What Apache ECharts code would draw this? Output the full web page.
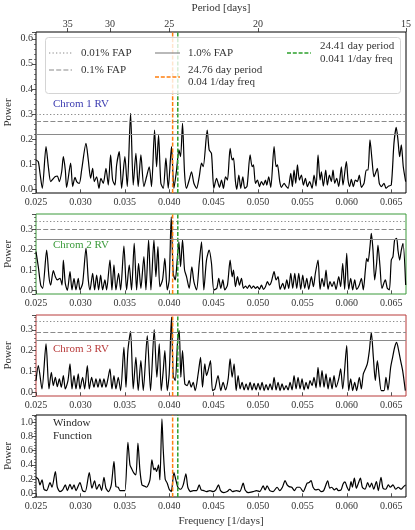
<!DOCTYPE html>
<html>
<head>
<meta charset="utf-8">
<script src="https://cdn.jsdelivr.net/npm/echarts@6/dist/echarts.min.js"></script>
<style>
  html, body { margin: 0; padding: 0; background: #fff; }
  #main { width: 415px; height: 530px; }
</style>
</head>
<body>
<div id="main"></div>
<script>
// frequency range: 1/40 .. 1/15 per day
const xMin = 1 / 40, xMax = 1 / 15;
const freqTicks = [0.025, 0.030, 0.035, 0.040, 0.045, 0.050, 0.055, 0.060, 0.065];
const periodTicks = [35, 30, 25, 20, 15];
const orangePeriod = 24.76, greenPeriod = 24.41;

// FAP levels per panel: [0.01%, 0.1%, 1.0%]
const fap1 = [0.302, 0.272, 0.224];
const fap2 = [0.335, 0.299, 0.250];
const fap3 = [0.335, 0.292, 0.247];

// Chrom 1 RV
const freq1 = [0.02500,0.02526,0.02545,0.02571,0.02613,0.02639,0.02665,0.02688,0.02714,0.02740,0.02763,0.02789,0.02808,0.02830,0.02845,0.02890,0.02913,0.02939,0.02958,0.02988,
  0.03014,0.03063,0.03089,0.03115,0.03138,0.03156,0.03183,0.03209,0.03231,0.03258,0.03288,0.03314,0.03340,0.03363,0.03389,0.03408,0.03438,0.03464,0.03501,0.03528,
  0.03565,0.03595,0.03625,0.03651,0.03681,0.03715,0.03745,0.03775,0.03801,0.03835,0.03858,0.03880,0.03906,0.03933,0.03963,0.03989,0.04026,0.04053,0.04083,0.04109,
  0.04128,0.04150,0.04173,0.04195,0.04225,0.04251,0.04278,0.04308,0.04338,0.04364,0.04383,0.04428,0.04450,0.04476,0.04503,0.04533,0.04566,0.04589,0.04611,0.04634,
  0.04656,0.04686,0.04709,0.04724,0.04746,0.04761,0.04784,0.04806,0.04829,0.04851,0.04877,0.04911,0.04934,0.04949,0.04971,0.04994,0.05016,0.05039,0.05061,0.05084,
  0.05099,0.05121,0.05144,0.05181,0.05204,0.05219,0.05245,0.05264,0.05294,0.05316,0.05339,0.05369,0.05387,0.05406,0.05425,0.05444,0.05466,0.05489,0.05511,0.05534,
  0.05556,0.05582,0.05609,0.05631,0.05654,0.05676,0.05699,0.05714,0.05736,0.05763,0.05781,0.05804,0.05826,0.05845,0.05864,0.05886,0.05909,0.05939,0.05957,0.05995,
  0.06014,0.06032,0.06051,0.06074,0.06096,0.06119,0.06141,0.06164,0.06194,0.06220,0.06239,0.06261,0.06284,0.06306,0.06329,0.06344,0.06366,0.06389,0.06419,0.06441,
  0.06471,0.06501,0.06531,0.06557,0.06576,0.06595,0.06614,0.06636,0.06663];
const pow1 = [0.117,0.110,0.064,0.004,0.170,0.090,0.031,0.040,0.050,0.053,0.031,0.070,0.130,0.077,0.008,0.104,0.011,0.048,0.031,0.024,
  0.077,0.183,0.117,0.044,0.084,0.031,0.050,0.004,0.044,0.024,0.084,0.017,0.137,0.037,0.017,0.097,0.150,0.004,0.130,0.011,
  0.303,0.017,0.143,0.011,0.137,0.011,0.050,0.090,0.011,0.236,0.090,0.216,0.024,0.004,0.124,0.004,0.170,0.004,0.077,0.157,
  0.130,0.263,0.064,0.004,0.037,0.070,0.024,0.004,0.050,0.104,0.090,0.236,0.157,0.143,0.004,0.044,0.008,0.037,0.004,0.050,
  0.037,0.163,0.117,0.124,0.031,0.000,0.057,0.004,0.050,0.004,0.013,0.137,0.090,0.097,0.024,0.037,0.011,0.031,0.017,0.037,
  0.017,0.050,0.008,0.170,0.090,0.097,0.031,0.008,0.024,0.013,0.004,0.064,0.011,0.077,0.024,0.097,0.037,0.057,0.017,0.044,
  0.011,0.031,0.004,0.057,0.013,0.137,0.037,0.070,0.013,0.077,0.017,0.057,0.031,0.077,0.024,0.044,0.011,0.090,0.017,0.110,
  0.037,0.011,0.040,0.011,0.037,0.031,0.057,0.008,0.024,0.077,0.077,0.197,0.117,0.050,0.070,0.084,0.024,0.011,0.024,0.004,
  0.013,0.017,0.183,0.247,0.197,0.130,0.177,0.090,0.031];

// Chrom 2 RV
const freq2 = [0.02500,0.02526,0.02553,0.02575,0.02620,0.02646,0.02665,0.02695,0.02718,0.02740,0.02770,0.02793,0.02808,0.02830,0.02853,0.02883,0.02905,0.02928,0.02950,0.02976,
  0.02995,0.03025,0.03063,0.03089,0.03108,0.03138,0.03160,0.03183,0.03205,0.03228,0.03250,0.03276,0.03295,0.03333,0.03355,0.03378,0.03400,0.03430,0.03453,0.03490,
  0.03520,0.03550,0.03576,0.03606,0.03633,0.03655,0.03681,0.03715,0.03738,0.03768,0.03794,0.03828,0.03850,0.03873,0.03895,0.03925,0.03951,0.03978,0.04000,0.04023,
  0.04045,0.04068,0.04090,0.04109,0.04128,0.04150,0.04173,0.04195,0.04225,0.04255,0.04278,0.04308,0.04338,0.04364,0.04390,0.04420,0.04450,0.04476,0.04503,0.04536,
  0.04558,0.04581,0.04604,0.04626,0.04656,0.04686,0.04709,0.04724,0.04746,0.04769,0.04791,0.04814,0.04836,0.04859,0.04881,0.04904,0.04926,0.04949,0.04971,0.04994,
  0.05016,0.05039,0.05061,0.05084,0.05106,0.05129,0.05151,0.05181,0.05204,0.05226,0.05249,0.05279,0.05301,0.05324,0.05346,0.05369,0.05391,0.05414,0.05436,0.05459,
  0.05481,0.05504,0.05526,0.05549,0.05571,0.05601,0.05624,0.05646,0.05676,0.05699,0.05721,0.05744,0.05766,0.05789,0.05811,0.05834,0.05856,0.05879,0.05909,0.05931,
  0.05954,0.05976,0.05999,0.06021,0.06044,0.06066,0.06089,0.06111,0.06141,0.06164,0.06186,0.06209,0.06224,0.06239,0.06261,0.06276,0.06295,0.06314,0.06336,0.06351,
  0.06374,0.06396,0.06434,0.06456,0.06479,0.06501,0.06520,0.06539,0.06561,0.06576,0.06595,0.06614,0.06633,0.06663];
const pow2 = [0.190,0.116,0.026,0.010,0.198,0.067,0.026,0.097,0.067,0.051,0.059,0.026,0.149,0.034,0.000,0.092,0.002,0.059,0.002,0.059,
  0.002,0.034,0.207,0.051,0.002,0.084,0.002,0.075,0.002,0.075,0.002,0.051,0.002,0.149,0.002,0.125,0.002,0.084,0.002,0.218,
  0.002,0.125,0.002,0.231,0.002,0.133,0.010,0.166,0.002,0.248,0.002,0.248,0.067,0.215,0.018,0.051,0.157,0.002,0.051,0.362,
  0.084,0.051,0.149,0.239,0.116,0.248,0.100,0.067,0.010,0.116,0.043,0.002,0.133,0.239,0.002,0.149,0.198,0.133,0.002,0.010,
  0.059,0.010,0.051,0.002,0.026,0.149,0.067,0.100,0.018,0.067,0.026,0.059,0.010,0.021,0.010,0.026,0.010,0.021,0.010,0.018,
  0.005,0.026,0.005,0.018,0.043,0.026,0.043,0.092,0.051,0.067,0.005,0.034,0.005,0.051,0.010,0.084,0.010,0.084,0.010,0.084,
  0.005,0.075,0.010,0.059,0.005,0.067,0.018,0.084,0.149,0.005,0.059,0.018,0.100,0.005,0.043,0.018,0.043,0.005,0.067,0.018,
  0.133,0.005,0.182,0.005,0.059,0.002,0.051,0.005,0.026,0.059,0.002,0.100,0.157,0.141,0.215,0.280,0.198,0.051,0.133,0.223,
  0.116,0.010,0.051,0.010,0.002,0.149,0.166,0.248,0.256,0.198,0.149,0.198,0.231,0.026];

// Chrom 3 RV
const freq3 = [0.02500,0.02526,0.02567,0.02613,0.02646,0.02673,0.02695,0.02718,0.02740,0.02763,0.02785,0.02808,0.02830,0.02860,0.02883,0.02905,0.02928,0.02950,0.02976,0.02995,
  0.03025,0.03048,0.03078,0.03100,0.03126,0.03153,0.03175,0.03198,0.03220,0.03243,0.03265,0.03288,0.03310,0.03333,0.03355,0.03378,0.03400,0.03426,0.03453,0.03490,
  0.03513,0.03535,0.03565,0.03595,0.03625,0.03651,0.03681,0.03708,0.03753,0.03790,0.03831,0.03861,0.03888,0.03910,0.03933,0.03951,0.03978,0.04000,0.04026,0.04045,
  0.04068,0.04094,0.04113,0.04131,0.04150,0.04176,0.04203,0.04225,0.04248,0.04270,0.04293,0.04326,0.04353,0.04375,0.04401,0.04420,0.04443,0.04465,0.04488,0.04514,
  0.04550,0.04581,0.04607,0.04634,0.04664,0.04686,0.04709,0.04731,0.04754,0.04776,0.04799,0.04821,0.04844,0.04866,0.04889,0.04911,0.04934,0.04956,0.04979,0.05001,
  0.05024,0.05046,0.05069,0.05091,0.05114,0.05136,0.05159,0.05181,0.05204,0.05226,0.05249,0.05271,0.05294,0.05316,0.05339,0.05361,0.05384,0.05406,0.05429,0.05451,
  0.05474,0.05496,0.05519,0.05541,0.05564,0.05586,0.05609,0.05631,0.05654,0.05676,0.05699,0.05721,0.05744,0.05766,0.05789,0.05811,0.05834,0.05856,0.05879,0.05909,
  0.05931,0.05954,0.05999,0.06021,0.06044,0.06066,0.06089,0.06111,0.06141,0.06164,0.06186,0.06209,0.06231,0.06254,0.06276,0.06299,0.06321,0.06344,0.06366,0.06389,
  0.06419,0.06441,0.06464,0.06494,0.06516,0.06539,0.06561,0.06584,0.06606,0.06629,0.06659];
const pow3 = [0.056,0.128,0.016,0.232,0.016,0.096,0.032,0.072,0.027,0.064,0.024,0.080,0.016,0.056,0.136,0.016,0.080,0.016,0.088,0.016,
  0.072,0.016,0.128,0.016,0.072,0.024,0.064,0.024,0.064,0.024,0.064,0.024,0.064,0.112,0.016,0.080,0.016,0.072,0.008,0.216,
  0.024,0.200,0.293,0.016,0.168,0.008,0.152,0.008,0.272,0.008,0.301,0.072,0.232,0.008,0.104,0.200,0.008,0.088,0.361,0.080,
  0.056,0.240,0.296,0.072,0.200,0.040,0.032,0.056,0.024,0.048,0.008,0.088,0.168,0.024,0.136,0.080,0.112,0.152,0.008,0.016,
  0.080,0.008,0.048,0.011,0.064,0.160,0.072,0.136,0.008,0.080,0.016,0.048,0.011,0.040,0.011,0.048,0.011,0.043,0.011,0.043,
  0.011,0.048,0.008,0.037,0.011,0.040,0.011,0.072,0.011,0.048,0.008,0.040,0.011,0.032,0.011,0.048,0.011,0.080,0.016,0.072,
  0.016,0.064,0.011,0.048,0.016,0.056,0.032,0.072,0.021,0.120,0.024,0.104,0.024,0.088,0.016,0.072,0.016,0.080,0.024,0.064,
  0.112,0.016,0.224,0.008,0.064,0.008,0.048,0.008,0.072,0.016,0.088,0.112,0.136,0.200,0.288,0.168,0.056,0.152,0.072,0.008,
  0.008,0.072,0.011,0.120,0.168,0.216,0.240,0.200,0.152,0.104,0.008];

// Window function
const freq4 = [0.02500,0.02526,0.02545,0.02568,0.02590,0.02620,0.02658,0.02680,0.02718,0.02740,0.02770,0.02800,0.02830,0.02853,0.02883,0.02905,0.02928,0.02950,0.02995,0.03025,
  0.03055,0.03100,0.03130,0.03160,0.03183,0.03213,0.03239,0.03265,0.03288,0.03318,0.03348,0.03378,0.03400,0.03426,0.03445,0.03468,0.03501,0.03535,0.03558,0.03580,
  0.03603,0.03625,0.03648,0.03670,0.03693,0.03715,0.03745,0.03783,0.03805,0.03828,0.03843,0.03858,0.03880,0.03895,0.03918,0.03933,0.03955,0.03978,0.04000,0.04023,
  0.04053,0.04075,0.04098,0.04128,0.04158,0.04188,0.04210,0.04240,0.04270,0.04308,0.04338,0.04360,0.04390,0.04420,0.04458,0.04495,0.04525,0.04555,0.04578,0.04615,
  0.04653,0.04683,0.04713,0.04758,0.04795,0.04833,0.04855,0.04893,0.04945,0.04983,0.05020,0.05058,0.05080,0.05103,0.05133,0.05170,0.05215,0.05245,0.05275,0.05305,
  0.05328,0.05350,0.05380,0.05410,0.05440,0.05470,0.05508,0.05553,0.05575,0.05598,0.05620,0.05650,0.05680,0.05710,0.05740,0.05785,0.05808,0.05830,0.05860,0.05883,
  0.05905,0.05935,0.05958,0.05980,0.06003,0.06025,0.06048,0.06063,0.06085,0.06108,0.06130,0.06153,0.06175,0.06205,0.06235,0.06258,0.06280,0.06303,0.06333,0.06355,
  0.06385,0.06408,0.06438,0.06468,0.06490,0.06520,0.06550,0.06580,0.06610,0.06640,0.06663];
const pow4 = [0.226,0.198,0.118,0.189,0.057,0.038,0.151,0.085,0.307,0.085,0.024,0.047,0.118,0.038,0.127,0.057,0.118,0.038,0.151,0.038,
  0.024,0.292,0.071,0.175,0.057,0.127,0.038,0.226,0.071,0.024,0.118,0.448,0.094,0.085,0.038,0.038,0.038,0.717,0.401,0.340,
  0.283,0.259,0.708,0.330,0.118,0.104,0.085,0.189,0.472,0.330,0.354,0.307,0.401,0.189,1.047,0.613,0.198,0.142,0.057,0.024,
  0.292,0.189,0.085,0.057,0.118,0.274,0.085,0.024,0.038,0.038,0.118,0.047,0.038,0.024,0.038,0.024,0.047,0.118,0.038,0.009,
  0.024,0.057,0.024,0.038,0.024,0.142,0.047,0.009,0.024,0.038,0.024,0.104,0.047,0.104,0.038,0.024,0.085,0.038,0.085,0.179,
  0.118,0.094,0.085,0.038,0.085,0.085,0.024,0.142,0.151,0.179,0.085,0.047,0.057,0.024,0.038,0.175,0.071,0.085,0.047,0.071,
  0.038,0.047,0.132,0.160,0.085,0.038,0.165,0.085,0.212,0.071,0.142,0.212,0.085,0.057,0.151,0.085,0.142,0.057,0.165,0.038,
  0.226,0.071,0.057,0.118,0.085,0.118,0.057,0.085,0.057,0.094,0.118];

const FONT = '"Liberation Serif", "DejaVu Serif", serif';
const ink = '#262626';
const fapColor = '#8a8a8a';
const orange = '#ff7f0e', green = '#2ca02c';

const panels = [
    {freq: freq1, pow: pow1, fap: fap1, min: -0.0147, max: 0.627, split: 6, frame: '#000000', top: 32, height: 161},
    {freq: freq2, pow: pow2, fap: fap2, min: -0.018, max: 0.3755, split: 4, frame: '#3a9a3a', top: 214, height: 80},
    {freq: freq3, pow: pow3, fap: fap3, min: -0.018, max: 0.371, split: 4, frame: '#b83a3a', top: 315, height: 81},
    {freq: freq4, pow: pow4, fap: null, min: -0.0525, max: 1.1025, split: 6, frame: '#000000', top: 415, height: 82}
];

let myChart = echarts.init(document.getElementById('main'), null, {renderer: 'canvas'});

let grids = [], xAxes = [], yAxes = [], series = [];
panels.forEach((p, i) => {
    grids.push({
        left: 36, right: 9, top: p.top, height: p.height,
        containLabel: false, outerBoundsMode: 'none',
        show: true, borderColor: p.frame, borderWidth: 1, backgroundColor: 'transparent'
    });
    xAxes.push({
        gridIndex: i, type: 'value', min: xMin, max: xMax,
        axisLine: {show: false},
        axisTick: {show: true, length: 3.5, customValues: freqTicks, lineStyle: {color: ink, width: 0.8}},
        axisLabel: {customValues: freqTicks, fontFamily: FONT, fontSize: 10, color: '#333', margin: 4,
            formatter: v => v.toFixed(3)},
        splitLine: {show: false},
        name: i === 3 ? 'Frequency [1/days]' : '',
        nameLocation: 'middle', nameGap: 19,
        nameTextStyle: {fontFamily: FONT, fontSize: 11, color: '#333'}
    });
    yAxes.push({
        gridIndex: i, type: 'value', min: p.min, max: p.max, splitNumber: p.split,
        name: 'Power', nameLocation: 'middle', nameGap: 22, nameRotate: 90, nameMoveOverlap: false,
        nameTextStyle: {fontFamily: FONT, fontSize: 11, color: '#333'},
        axisLine: {show: false},
        axisTick: {show: true, length: 4, lineStyle: {color: ink, width: 0.8}},
        minorTick: {show: true, splitNumber: 5, length: 2, lineStyle: {color: ink, width: 0.6}},
        axisLabel: {fontFamily: FONT, fontSize: 10, color: '#333', margin: 3, showMinLabel: false, showMaxLabel: false,
            formatter: v => v.toFixed(1)},
        splitLine: {show: false}
    });

    let marks = [];
    if (p.fap) {
        marks.push({yAxis: p.fap[0], lineStyle: {color: fapColor, type: [1.3, 2.2], width: 1.2}});
        marks.push({yAxis: p.fap[1], lineStyle: {color: fapColor, type: [5, 2.2], width: 1.2}});
        marks.push({yAxis: p.fap[2], lineStyle: {color: fapColor, type: 'solid', width: 1.2}});
    }

    series.push({
        type: 'line', xAxisIndex: i, yAxisIndex: i,
        data: p.freq.map((f, k) => [f, p.pow[k]]),
        showSymbol: false, symbol: 'none', smooth: 0.25,
        lineStyle: {color: '#000', width: 1.2},
        clip: true, silent: true, z: 2,
        markLine: {silent: true, symbol: 'none', animation: false, label: {show: false}, data: marks}
    });

    // vertical period markers, drawn as their own two-point series
    [[orangePeriod, orange], [greenPeriod, green]].forEach(([per, col]) => {
        series.push({
            type: 'line', xAxisIndex: i, yAxisIndex: i,
            data: [[1 / per, p.min], [1 / per, p.max]],
            showSymbol: false, symbol: 'none', silent: true, z: 3,
            lineStyle: {color: col, type: [4, 1.8], width: 1.5}
        });
    });
});

// period axis on top of the first panel
xAxes.push({
    gridIndex: 0, type: 'value', position: 'top', min: xMin, max: xMax,
    axisLine: {show: false},
    axisTick: {show: true, length: 4, customValues: periodTicks.map(d => 1 / d), lineStyle: {color: ink, width: 0.8}},
    axisLabel: {customValues: periodTicks.map(d => 1 / d), fontFamily: FONT, fontSize: 10, color: '#333', margin: 3,
        formatter: v => String(Math.round(1 / v))},
    splitLine: {show: false},
    name: 'Period [days]', nameLocation: 'middle', nameGap: 18, nameMoveOverlap: false,
    nameTextStyle: {fontFamily: FONT, fontSize: 11, color: '#333'}
});

const lf = '11px ' + FONT;
function txt(x, y, s, color) {
    return {type: 'text', x: x, y: y, z: 20, silent: true,
        style: {text: s, font: lf, fill: color || '#333', verticalAlign: 'middle'}};
}
function seg(x1, x2, y, color, dash) {
    return {type: 'line', z: 20, silent: true, shape: {x1: x1, y1: y, x2: x2, y2: y},
        style: {stroke: color, lineWidth: color === orange || color === green ? 1.5 : 1.2, lineDash: dash}};
}

let graphics = [
    {type: 'rect', z: 19, silent: true, shape: {x: 45.5, y: 37.5, width: 355, height: 56, r: 3},
        style: {fill: 'rgba(255,255,255,0.8)', stroke: '#d4d4d4', lineWidth: 1}},
    seg(49, 72, 53, fapColor, [1.3, 2.2]), txt(81, 53, '0.01% FAP'),
    seg(49, 72, 70, fapColor, [5, 2.2]), txt(81, 70, '0.1% FAP'),
    seg(155, 180, 53, fapColor, null), txt(188, 53, '1.0% FAP'),
    seg(155, 180, 77, orange, [4, 1.8]), txt(188, 70, '24.76 day period'), txt(188, 82, '0.04 1/day freq'),
    seg(287, 311, 53, green, [4, 1.8]), txt(320, 46, '24.41 day period'), txt(320, 59, '0.041 1/day freq'),
    txt(53, 104, 'Chrom 1 RV', '#3b3bb0'),
    txt(53, 245, 'Chrom 2 RV', '#3a9a3a'),
    txt(53, 349, 'Chrom 3 RV', '#b83a3a'),
    txt(53, 423, 'Window', '#262626'),
    txt(53, 436, 'Function', '#262626')
];

let option = {
    animation: false,
    backgroundColor: '#fff',
    textStyle: {fontFamily: FONT},
    grid: grids,
    xAxis: xAxes,
    yAxis: yAxes,
    series: series,
    graphic: graphics
};
myChart.setOption(option);
</script>
</body>
</html>
